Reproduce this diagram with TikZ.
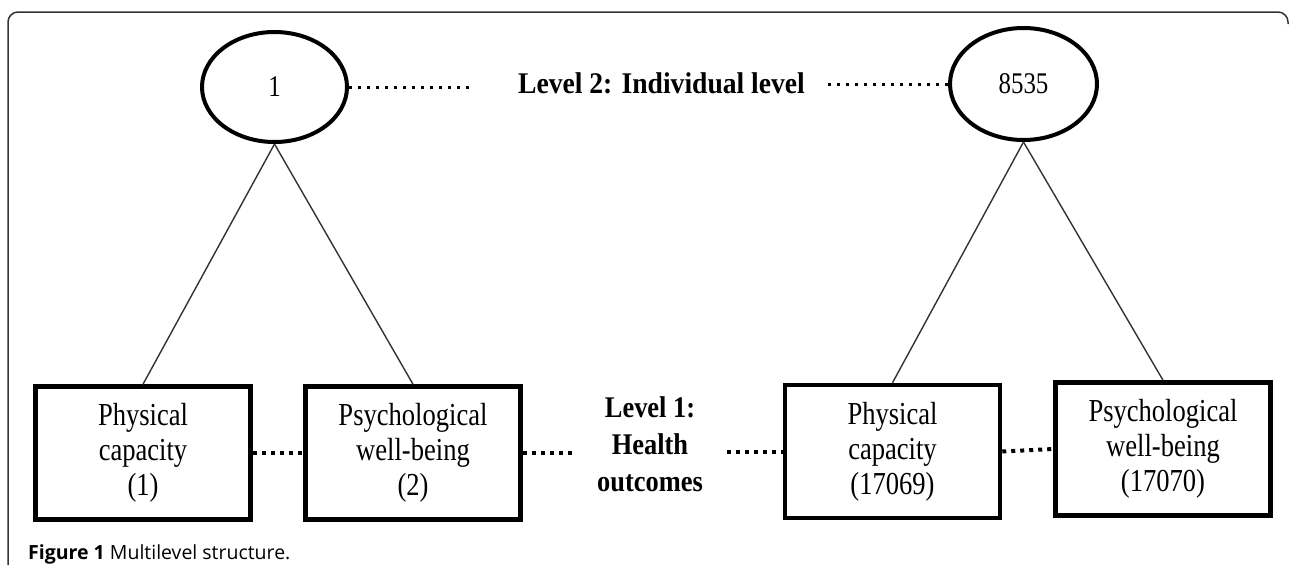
\documentclass[tikz,border=0pt]{standalone}
\usepackage{fontspec}
\usetikzlibrary{shapes.geometric,calc}
\setmainfont{Liberation Serif}
\newfontfamily\boxfont[FakeStretch=0.83]{Liberation Serif}
\newfontfamily\lvlfont[FakeStretch=0.92]{Liberation Serif Bold}
\newfontfamily\lvlfontb[FakeStretch=0.88]{Liberation Serif Bold}
\newfontfamily\capfont{Open Sans}
\tikzset{
  levelnode/.style={ellipse, draw, line width=4pt, inner sep=0pt,
    font=\boxfont\fontsize{30}{35}\selectfont},
  outbox/.style={draw, line width=4.5pt, minimum width=215pt, minimum height=133pt,
    inner sep=0pt, align=center, font=\boxfont\fontsize{32}{35}\selectfont},
  lvltext/.style={inner sep=0pt, align=center, font=\lvlfont\fontsize{30}{37}\selectfont},
  lvltextb/.style={inner sep=0pt, align=center, font=\lvlfontb\fontsize{30}{37}\selectfont},
  topdots/.style={line width=3pt, dash pattern=on 3pt off 6pt},
  lowdots/.style={line width=4pt, dash pattern=on 4pt off 5pt},
  tie/.style={line width=1.4pt, draw=black!80},
  frame/.style={line width=1.5pt, draw=black!80, rounded corners=10pt}
}
\begin{document}
\begin{tikzpicture}[x=1pt,y=-1pt]
\useasboundingbox (0,0) rectangle (1292,565);
\fill[white] (0,0) rectangle (1292,565);
% frame
\draw[frame] (8,565) -- (8,12) -- (1288,12) -- (1288,24);
% level 2 units
\node[levelnode, minimum width=145pt, minimum height=110pt] (e1) at (274.5,87) {1};
\node[levelnode, minimum width=147pt, minimum height=112pt] (e2) at (1023.5,84) {8535};
\node[lvltext, anchor=center] (l2) at (661.5,83) {Level 2: Individual level};
% level 1 boxes
\node[outbox] (b1) at (143,453) {Physical\\capacity\\(1)};
\node[outbox] (b2) at (413,453) {Psychological\\well-being\\(2)};
\node[outbox] (b3) at (892.5,451.5) {Physical\\capacity\\(17069)};
\node[outbox] (b4) at (1163,449) {Psychological\\well-being\\(17070)};
\node[lvltextb, anchor=north] (l1) at (650,396) {Level 1:\\Health\\outcomes};
% ties
\draw[tie] (e1.south) -- (b1.north);
\draw[tie] (e1.south) -- (b2.north);
\draw[tie] (e2.south) -- (b3.north);
\draw[tie] (e2.south) -- (b4.north);
% dotted links, level 2
\draw[topdots, shorten >=48pt] (e1.east) -- (e1.east -| l2.west);
\draw[topdots, shorten <=23pt] (e2.west -| l2.east) -- (e2.west);
% dotted links, level 1
\draw[lowdots, yshift=-4pt] (b1.east) -- (b2.west);
\draw[lowdots, yshift=-4pt, shorten >=23pt] (b2.east) -- (b2.east -| l1.west);
\draw[lowdots, yshift=-4pt, shorten <=24pt] (b3.west -| l1.east) -- (b3.west);
\draw[lowdots, yshift=-4pt] (b3.east) -- (b4.west);
% caption
\node[anchor=base west, inner sep=0pt, font=\capfont\fontsize{19.5}{22}\selectfont] (cap) at (28,559)
  {\textbf{Figure 1} Multilevel structure.};
\end{tikzpicture}
\end{document}
